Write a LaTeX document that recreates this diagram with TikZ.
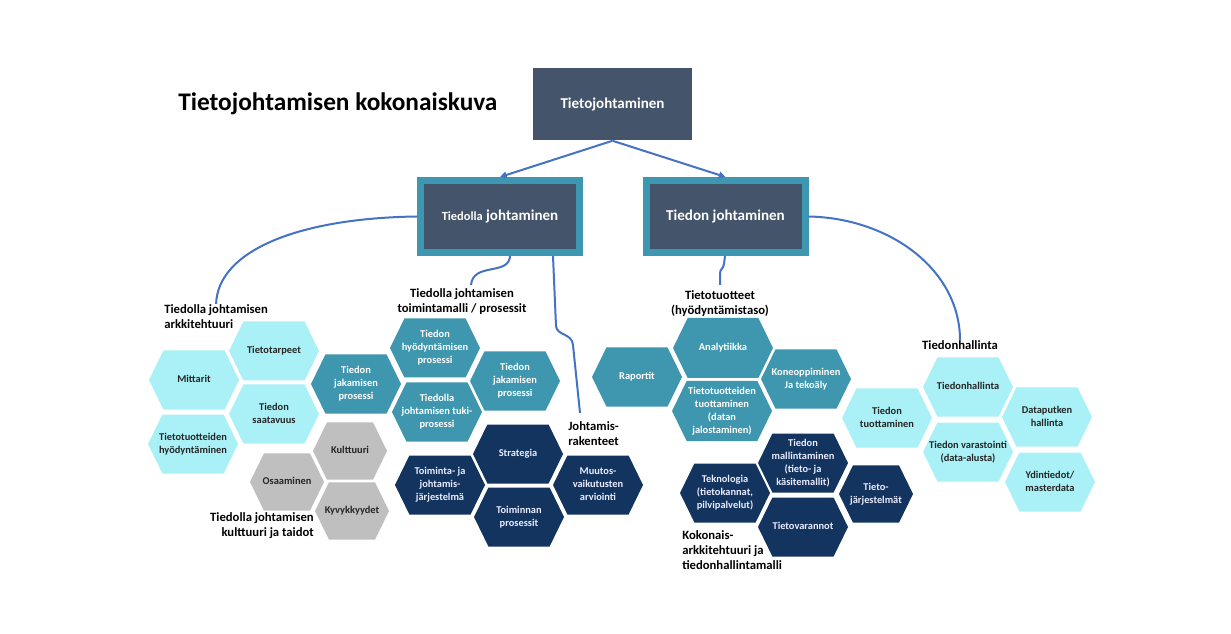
\documentclass[tikz,border=0pt]{standalone}
\usepackage{fontspec}
\setmainfont{Carlito}
\usepackage{tikz}
\usetikzlibrary{shapes.symbols,arrows.meta,positioning}

\definecolor{slate}{HTML}{44546A}
\definecolor{tealb}{HTML}{3E97B0}
\definecolor{tealh}{HTML}{3F97AF}
\definecolor{lightc}{HTML}{A9F1F6}
\definecolor{navyh}{HTML}{12345E}
\definecolor{grayh}{HTML}{BFBFBF}
\definecolor{linkb}{HTML}{4472C4}

% hexagon text: centred lines that do not widen the shape
\newcommand{\hxt}[1]{\makebox[0pt]{\begin{tabular}{@{}c@{}}#1\end{tabular}}}

\begin{document}
\begin{tikzpicture}[x=0.75pt,y=-0.75pt,
   hex/.style={signal, signal to=east and west, signal pointer angle=128,
     minimum width=67.5pt, minimum height=44.25pt, inner sep=0pt,
     font=\fontsize{7.8}{9.8}\selectfont\bfseries},
   widehex/.style={minimum width=75pt, minimum height=45pt},
   smallhex/.style={minimum width=55.5pt, minimum height=43pt},
   lighthex/.style={hex, fill=lightc, text=black!85},
   tealhex/.style={hex, fill=tealh, text=white},
   navyhex/.style={hex, fill=navyh, text=white!92!blue},
   grayhex/.style={hex, smallhex, fill=grayh, text=black!85},
   topbox/.style={rectangle, fill=slate, text=white, minimum width=119.25pt,
     minimum height=54pt, font=\fontsize{11.3}{13}\selectfont\bfseries},
   subbox/.style={topbox, draw=tealb, line width=5.25pt},
   grouplabel/.style={font=\fontsize{9.5}{11.3}\selectfont\bfseries, inner sep=0pt},
   link/.style={draw=linkb, line width=1.5pt}]

   \useasboundingbox (0,0) rectangle (1231,634);

   % title and the three boxes
   \node[anchor=west, inner sep=0pt, font=\fontsize{19}{22}\selectfont\bfseries] (title)
        at (178,104) {Tietojohtamisen kokonaiskuva};
   \node[topbox] (tj)  at (612.5,104.5) {Tietojohtaminen};
   \node[subbox] (tdj) at (500,216.5)
        {{\fontsize{9.3}{11}\selectfont Tiedolla} johtaminen};
   \node[subbox] (tdn) at (725.5,216.5) {Tiedon johtaminen};

   \path[color=linkb, line width=1.5pt, -{Triangle[length=5pt,width=5pt]}]
    (tj.south) edge (tdj.north)
               edge (tdn.north);

   % group labels
   \node[grouplabel, anchor=north west, align=left] (lark) at (164,304)
        {Tiedolla johtamisen\\arkkitehtuuri};
   \node[grouplabel, align=center] (ltoim) at (462,302)
        {Tiedolla johtamisen\\toimintamalli / prosessit};
   \node[grouplabel, anchor=north west, align=left] (ljoh) at (568,421)
        {Johtamis-\\rakenteet};
   \node[grouplabel, align=center] (ltuot) at (720,304)
        {Tietotuotteet\\(hyödyntämistaso)};
   \node[grouplabel] (lhal) at (960,345) {Tiedonhallinta};
   \node[grouplabel, anchor=north east, align=right] (lkult) at (314,512)
        {Tiedolla johtamisen\\kulttuuri ja taidot};
   \node[grouplabel, anchor=north west, align=left] (lkok) at (682,530)
        {Kokonais-\\arkkitehtuuri ja\\tiedonhallintamalli};

   \coordinate (ctoim) at (471,285);
   \coordinate (cjoh)  at (580,413);
   \coordinate (ctuot) at (720,285);

   % connectors
   \draw[link] (tdj.west) .. controls (300,218) and (218,250) .. (lark.north);
   \draw[link] (tdj.south -| 510,0) .. controls (509,276) and (473,262) .. (ctoim);
   \draw[link] (tdj.south -| 553,0) -- (556,326)
        .. controls (557,336) and (572,333) .. (573,345) -- (cjoh);
   \draw[link] (tdn.south -| 725,0) -- (724,264)
        .. controls (723,270) and (720,268) .. (720,274) -- (ctuot);
   \draw[link] (tdn.east) .. controls (890,218) and (960,270) .. (lhal.north);

   % architecture
   \node[lighthex] (mitt) at (194,380) {\hxt{Mittarit}};
   \node[lighthex] (tarp) at (274,351) {\hxt{Tietotarpeet}};
   \node[lighthex] (saat) at (274,414) {\hxt{Tiedon\\saatavuus}};
   \node[lighthex] (hyod) at (193,444) {\hxt{Tietotuotteiden\\hyödyntäminen}};

   % culture
   \node[grayhex] (kult) at (350,451) {\hxt{Kulttuuri}};
   \node[grayhex] (osaa) at (287,482) {\hxt{Osaaminen}};
   \node[grayhex] (kyvy) at (352,511) {\hxt{Kyvykkyydet}};

   % processes
   \node[tealhex] (jak1) at (356,384) {\hxt{Tiedon\\jakamisen\\prosessi}};
   \node[tealhex] (hyop) at (435,348) {\hxt{Tiedon\\hyödyntämisen\\prosessi}};
   \node[tealhex] (jak2) at (515,381) {\hxt{Tiedon\\jakamisen\\prosessi}};
   \node[tealhex] (tuki) at (437,412) {\hxt{Tiedolla\\johtamisen tuki-\\prosessi}};

   % management structures
   \node[navyhex] (stra) at (518,454) {\hxt{Strategia}};
   \node[navyhex] (tjjs) at (440,485) {\hxt{Toiminta- ja\\johtamis-\\järjestelmä}};
   \node[navyhex] (tpro) at (519,517) {\hxt{Toiminnan\\prosessit}};
   \node[navyhex] (muut) at (598,485) {\hxt{Muutos-\\vaikutusten\\arviointi}};

   % information products
   \node[tealhex] (rapo) at (637,377) {\hxt{Raportit}};
   \node[tealhex, widehex] (anal) at (723,348) {\hxt{Analytiikka}};
   \node[tealhex] (kone) at (806,379) {\hxt{Koneoppiminen\\Ja tekoäly}};
   \node[tealhex, widehex] (ttuo) at (722,411)
        {\hxt{Tietotuotteiden\\tuottaminen\\(datan\\jalostaminen)}};

   % enterprise architecture
   \node[navyhex] (mall) at (803,463) {\hxt{Tiedon\\mallintaminen\\(tieto- ja\\käsitemallit)}};
   \node[navyhex] (tekn) at (725,493) {\hxt{Teknologia\\(tietokannat,\\pilvipalvelut)}};
   \node[navyhex, smallhex] (tjar) at (876,494) {\hxt{Tieto-\\järjestelmät}};
   \node[navyhex] (tvrn) at (803,527) {\hxt{Tietovarannot}};

   % data management
   \node[lighthex] (tdtu) at (887,418) {\hxt{Tiedon\\tuottaminen}};
   \node[lighthex] (thal) at (968,387) {\hxt{Tiedonhallinta}};
   \node[lighthex] (dput) at (1047,417) {\hxt{Dataputken\\hallinta}};
   \node[lighthex] (tvar) at (968,452) {\hxt{Tiedon varastointi\\(data-alusta)}};
   \node[lighthex] (ydin) at (1050,482) {\hxt{Ydintiedot/\\masterdata}};
\end{tikzpicture}
\end{document}
